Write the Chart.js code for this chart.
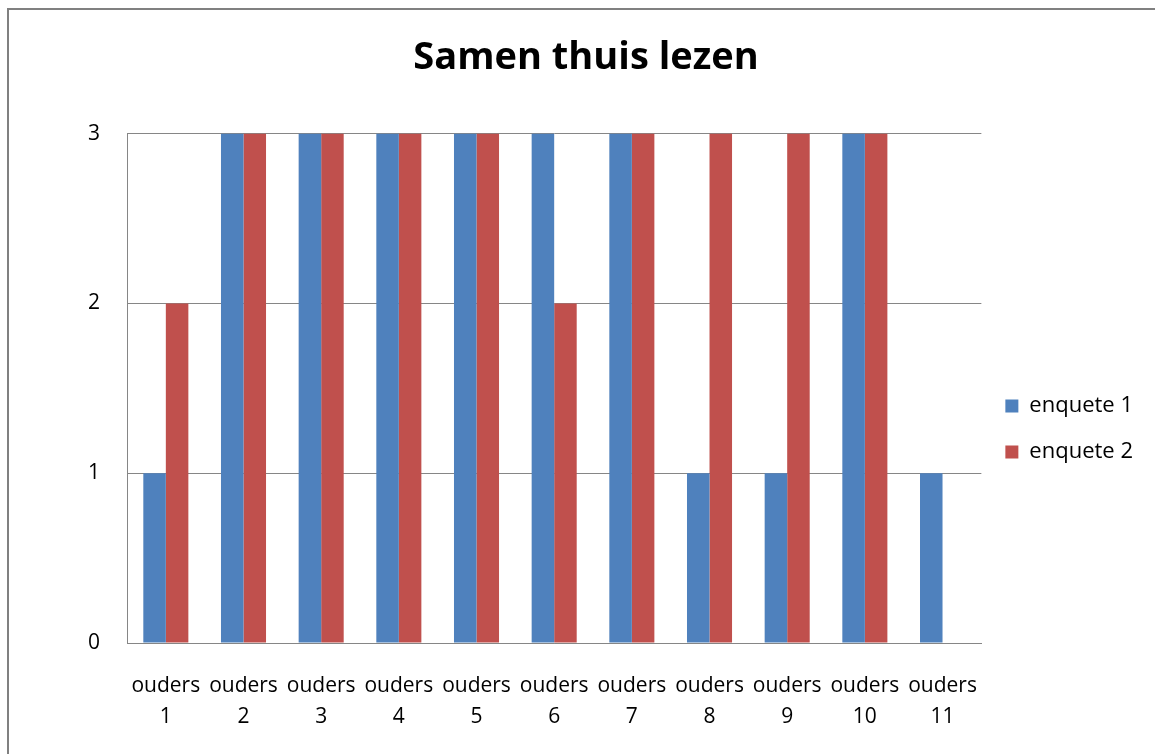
<!DOCTYPE html>
<html>
<head>
<meta charset="utf-8">
<script src="https://cdn.jsdelivr.net/npm/chart.js@4/dist/chart.umd.min.js"></script>
<style>
  html, body { margin: 0; padding: 0; background: #fff; overflow: hidden; }
  #wrap { position: relative; width: 1155px; height: 754px; }
  #frame { position: absolute; left: 7px; top: 8px; width: 1300px; height: 900px;
           border: 2px solid #808080; pointer-events: none; }
</style>
</head>
<body>
<div id="wrap">
  <canvas id="myChart" width="1155" height="754"></canvas>
  <div id="frame"></div>
</div>
<script>
// categorieen en waarden
const labels = [
  ["ouders", "1"], ["ouders", "2"], ["ouders", "3"], ["ouders", "4"],
  ["ouders", "5"], ["ouders", "6"], ["ouders", "7"], ["ouders", "8"],
  ["ouders", "9"], ["ouders", "10"], ["ouders", "11"],
];
const enquete1 = [1, 3, 3, 3, 3, 3, 3, 1, 1, 3, 1];
const enquete2 = [2, 3, 3, 3, 3, 2, 3, 3, 3, 3, null];
const yTicks = [0, 1, 2, 3];

const font = "Open Sans";

function drawChart() {
  let ctx = document.getElementById("myChart").getContext("2d");
  new Chart(ctx, {
    type: "bar",
    data: {
      labels: labels,
      datasets: [
        {
          label: "enquete 1",
          data: enquete1,
          backgroundColor: "#4F81BD",
          categoryPercentage: 0.58,
          barPercentage: 1,
        },
        {
          label: "enquete 2",
          data: enquete2,
          backgroundColor: "#C0504D",
          categoryPercentage: 0.58,
          barPercentage: 1,
        },
      ],
    },
    options: {
      responsive: false,
      animation: false,
      layout: { padding: { left: 29, right: 12, top: 0, bottom: 0 } },
      plugins: {
        title: {
          display: true,
          text: "Samen thuis lezen",
          color: "#000",
          font: { family: font, size: 38, weight: "bold" },
          padding: { top: 35, bottom: 53 },
        },
        legend: {
          position: "right",
          title: {
            display: true,
            text: " ",
            font: { size: 10, lineHeight: 1 },
            padding: { top: 94, bottom: 0 },
          },
          labels: {
            color: "#000",
            font: { family: font, size: 22 },
            boxWidth: 13,
            boxHeight: 13,
            padding: 24,
          },
        },
        tooltip: { enabled: false },
      },
      scales: {
        x: {
          afterFit: (scale) => {
            scale.height = 111;
          },
          grid: { display: false, drawTicks: false },
          border: { color: "#868686" },
          ticks: {
            color: "#000",
            font: { family: font, size: 21, lineHeight: 1.45 },
            padding: 28,
            autoSkip: false,
            maxRotation: 0,
            minRotation: 0,
          },
        },
        y: {
          min: 0,
          max: 3,
          afterBuildTicks: (axis) => {
            axis.ticks = yTicks.map((v) => ({ value: v }));
          },
          afterFit: (scale) => {
            scale.width = 98;
          },
          grid: { color: "#868686", drawTicks: false },
          border: { color: "#868686" },
          ticks: {
            color: "#000",
            font: { family: font, size: 21 },
            padding: 27,
          },
        },
      },
    },
  });
}

drawChart();
</script>
</body>
</html>
